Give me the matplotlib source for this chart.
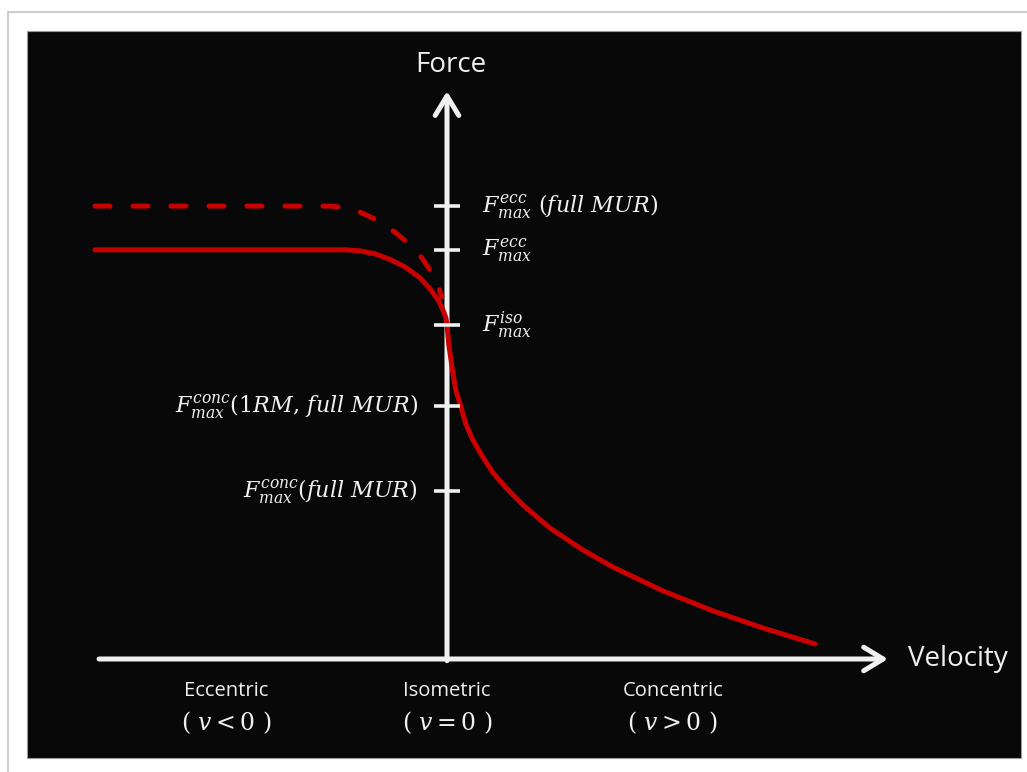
import matplotlib.pyplot as plt
from matplotlib.patches import Rectangle

plt.rcParams['mathtext.fontset'] = 'dejavuserif'

# force-velocity curve, velocity in arbitrary units (concentric end = 1),
# force relative to the isometric maximum
velocity_solid = [-0.954, -0.271, -0.236, -0.195, -0.154, -0.114, -0.073,
                  -0.046, -0.024, -0.011, -0.003, 0.0, 0.005, 0.011, 0.016,
                  0.024, 0.038, 0.051, 0.070, 0.095, 0.125, 0.163, 0.206,
                  0.279, 0.369, 0.450, 0.585, 0.721, 0.856, 0.997]
force_solid = [1.225, 1.225, 1.222, 1.213, 1.196, 1.174, 1.141,
               1.108, 1.075, 1.045, 1.021, 1.0, 0.940, 0.895, 0.856,
               0.805, 0.754, 0.704, 0.656, 0.608, 0.557, 0.509, 0.461,
               0.392, 0.326, 0.275, 0.204, 0.144, 0.093, 0.045]

# eccentric branch with full motor unit recruitment
velocity_dashed = [-0.954, -0.317, -0.276, -0.236, -0.195, -0.141, -0.100,
                   -0.068, -0.043, -0.024, -0.014]
force_dashed = [1.356, 1.356, 1.352, 1.338, 1.317, 1.278, 1.240,
                1.201, 1.159, 1.117, 1.084]

tick_forces = [1.356, 1.225, 1.0, 0.757, 0.503]
tick_labels = [r'$F_{max}^{ecc}\ (full\ MUR)$',
               r'$F_{max}^{ecc}$',
               r'$F_{max}^{iso}$',
               r'$F_{max}^{conc}(1RM,\,full\ MUR)$',
               r'$F_{max}^{conc}(full\ MUR)$']
tick_sides = ['right', 'right', 'right', 'left', 'left']

region_names = ['Eccentric', 'Isometric', 'Concentric']
region_conditions = [r'$(\ v < 0\ )$', r'$(\ v = 0\ )$', r'$(\ v > 0\ )$']
region_centers = [-0.599, 0.0, 0.612]

W, H = 1027, 772
RED = '#C80000'
WHITE = '#F0F0F0'

fig = plt.figure(figsize=(W / 100, H / 100), dpi=100, facecolor='white')

# card frame and black panel (behind the axes)
fig.add_artist(Rectangle((8 / W, -0.1), 1.1, (H - 12) / H + 0.1,
                         transform=fig.transFigure, facecolor='white',
                         edgecolor='#c4c4c4', lw=1.2, zorder=-3))
fig.add_artist(Rectangle((27 / W, 14 / H), 994 / W, 727 / H,
                         transform=fig.transFigure, facecolor='#080808',
                         edgecolor='#9a9a9a', lw=0.8, zorder=-2))

ax = fig.add_axes([27 / W, 14 / H, 994 / W, 727 / H])
ax.set_xlim(-420 / 369, 574 / 369)
ax.set_ylim(-99 / 334, 628 / 334)
ax.axis('off')

# axes arrows
arrow = dict(arrowstyle='->,head_length=14,head_width=8.5', color=WHITE,
             lw=3.6, shrinkA=0, shrinkB=0, mutation_scale=1)
ax.annotate('', xy=(1.195, 0), xytext=(-0.943, 0), arrowprops=arrow)
ax.annotate('', xy=(0, 1.70), xytext=(0, -0.005), arrowprops=arrow)

ax.plot([0] * len(tick_forces), tick_forces, ls='none', marker='_',
        ms=19, mew=2.6, color=WHITE, zorder=4)

ax.plot(velocity_solid, force_solid, color=RED, lw=3.6,
        solid_capstyle='round', solid_joinstyle='round', zorder=3)
ax.plot(velocity_dashed, force_dashed, color=RED, lw=3.6,
        dashes=(3, 4.6), dash_capstyle='round', dash_joinstyle='round',
        zorder=3)

for f, lab, side in zip(tick_forces, tick_labels, tick_sides):
    if side == 'right':
        ax.text(0.095, f, lab, color=WHITE, fontsize=16, ha='left', va='center')
    else:
        ax.text(-0.079, f, lab, color=WHITE, fontsize=16, ha='right', va='center')

ax.text(0.011, 1.777, 'Force', color=WHITE, fontsize=20, family='Open Sans',
        ha='center', va='center')
ax.text(1.249, 0.0, 'Velocity', color=WHITE, fontsize=20, family='Open Sans',
        ha='left', va='center')

for xc, name, cond in zip(region_centers, region_names, region_conditions):
    ax.text(xc, -0.095, name, color=WHITE, fontsize=14.5, family='Open Sans',
            ha='center', va='center')
    ax.text(xc, -0.19, cond, color=WHITE, fontsize=17, ha='center', va='center')

fig.savefig('out.png', dpi=100, facecolor='white')
